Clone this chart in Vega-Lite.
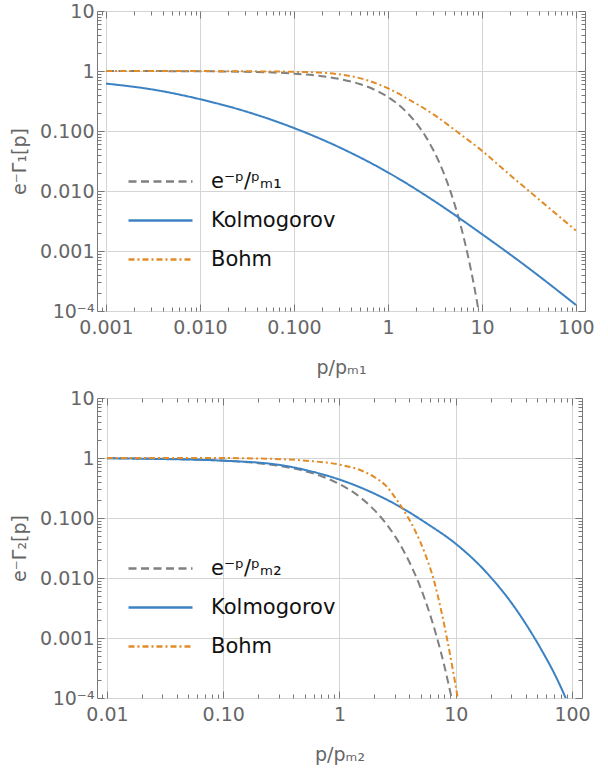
{
  "$schema": "https://vega.github.io/schema/vega-lite/v6.json",
  "padding": {"left": 10, "top": 1, "right": 5, "bottom": 5},
  "background": "white",
  "spacing": 10,
  "align": "none",
  "config": {
    "view": {"stroke": "#7a7a7a", "strokeWidth": 1},
    "axis": {
      "labelFont": "DejaVu Sans", "labelFontSize": 19, "labelColor": "#666666",
      "titleFont": "DejaVu Sans", "titleFontSize": 19, "titleColor": "#666666", "titleFontWeight": "normal",
      "gridColor": "#d4d4d4", "gridWidth": 1, "tickColor": "#777777", "domain": false,
      "labelOverlap": false, "labelFlush": false, "labelBound": false
    },
    "legend": {
      "labelFont": "DejaVu Sans", "labelFontSize": 21, "labelColor": "#111111",
      "symbolType": "M-4,0H4", "symbolSize": 256, "symbolStrokeWidth": 2.5,
      "labelOffset": 40, "rowPadding": 17, "title": null
    }
  },
  "datasets": {
    "top": [
      {"x": 0.001, "y": 0.999, "s": "exp"}, {"x": 0.01, "y": 0.990, "s": "exp"}, {"x": 0.03, "y": 0.970, "s": "exp"},
      {"x": 0.1, "y": 0.905, "s": "exp"}, {"x": 0.2, "y": 0.819, "s": "exp"}, {"x": 0.3, "y": 0.741, "s": "exp"},
      {"x": 0.5, "y": 0.607, "s": "exp"}, {"x": 0.7, "y": 0.497, "s": "exp"}, {"x": 1, "y": 0.368, "s": "exp"},
      {"x": 1.5, "y": 0.223, "s": "exp"}, {"x": 2, "y": 0.135, "s": "exp"}, {"x": 2.5, "y": 0.0821, "s": "exp"},
      {"x": 3, "y": 0.0498, "s": "exp"}, {"x": 3.5, "y": 0.0302, "s": "exp"}, {"x": 4, "y": 0.0183, "s": "exp"},
      {"x": 5, "y": 0.00674, "s": "exp"}, {"x": 6, "y": 0.00248, "s": "exp"}, {"x": 7, "y": 0.000912, "s": "exp"},
      {"x": 8, "y": 0.000335, "s": "exp"}, {"x": 9, "y": 0.000123, "s": "exp"}, {"x": 9.5, "y": 0.0000749, "s": "exp"},
      {"x": 0.001, "y": 0.617, "s": "Kolmogorov"}, {"x": 0.00316, "y": 0.490, "s": "Kolmogorov"},
      {"x": 0.01, "y": 0.339, "s": "Kolmogorov"}, {"x": 0.0316, "y": 0.209, "s": "Kolmogorov"},
      {"x": 0.1, "y": 0.112, "s": "Kolmogorov"}, {"x": 0.316, "y": 0.0519, "s": "Kolmogorov"},
      {"x": 1, "y": 0.0204, "s": "Kolmogorov"}, {"x": 3.16, "y": 0.00668, "s": "Kolmogorov"},
      {"x": 10, "y": 0.00191, "s": "Kolmogorov"}, {"x": 31.6, "y": 0.000513, "s": "Kolmogorov"},
      {"x": 100, "y": 0.000126, "s": "Kolmogorov"},
      {"x": 0.001, "y": 0.9995, "s": "Bohm"}, {"x": 0.00316, "y": 0.9989, "s": "Bohm"}, {"x": 0.01, "y": 0.9966, "s": "Bohm"},
      {"x": 0.0316, "y": 0.9886, "s": "Bohm"}, {"x": 0.1, "y": 0.970, "s": "Bohm"}, {"x": 0.178, "y": 0.944, "s": "Bohm"},
      {"x": 0.316, "y": 0.871, "s": "Bohm"}, {"x": 0.562, "y": 0.724, "s": "Bohm"}, {"x": 1, "y": 0.513, "s": "Bohm"},
      {"x": 1.78, "y": 0.316, "s": "Bohm"}, {"x": 3.16, "y": 0.182, "s": "Bohm"}, {"x": 5.62, "y": 0.0933, "s": "Bohm"},
      {"x": 10, "y": 0.0468, "s": "Bohm"}, {"x": 17.8, "y": 0.0214, "s": "Bohm"}, {"x": 31.6, "y": 0.0100, "s": "Bohm"},
      {"x": 56.2, "y": 0.00468, "s": "Bohm"}, {"x": 100, "y": 0.00219, "s": "Bohm"}
    ],
    "bot": [
      {"x": 0.01, "y": 0.990, "s": "exp"}, {"x": 0.03, "y": 0.970, "s": "exp"},
      {"x": 0.1, "y": 0.905, "s": "exp"}, {"x": 0.2, "y": 0.819, "s": "exp"}, {"x": 0.3, "y": 0.741, "s": "exp"},
      {"x": 0.5, "y": 0.607, "s": "exp"}, {"x": 0.7, "y": 0.497, "s": "exp"}, {"x": 1, "y": 0.368, "s": "exp"},
      {"x": 1.5, "y": 0.223, "s": "exp"}, {"x": 2, "y": 0.135, "s": "exp"}, {"x": 2.5, "y": 0.0821, "s": "exp"},
      {"x": 3, "y": 0.0498, "s": "exp"}, {"x": 3.5, "y": 0.0302, "s": "exp"}, {"x": 4, "y": 0.0183, "s": "exp"},
      {"x": 5, "y": 0.00674, "s": "exp"}, {"x": 6, "y": 0.00248, "s": "exp"}, {"x": 7, "y": 0.000912, "s": "exp"},
      {"x": 8, "y": 0.000335, "s": "exp"}, {"x": 9, "y": 0.000123, "s": "exp"}, {"x": 9.5, "y": 0.0000749, "s": "exp"},
      {"x": 0.01, "y": 0.989, "s": "Kolmogorov"}, {"x": 0.0316, "y": 0.959, "s": "Kolmogorov"},
      {"x": 0.1, "y": 0.902, "s": "Kolmogorov"}, {"x": 0.316, "y": 0.759, "s": "Kolmogorov"},
      {"x": 0.562, "y": 0.603, "s": "Kolmogorov"}, {"x": 1, "y": 0.437, "s": "Kolmogorov"},
      {"x": 1.78, "y": 0.282, "s": "Kolmogorov"}, {"x": 3.16, "y": 0.162, "s": "Kolmogorov"},
      {"x": 5.62, "y": 0.0813, "s": "Kolmogorov"}, {"x": 10, "y": 0.0372, "s": "Kolmogorov"},
      {"x": 17.8, "y": 0.0132, "s": "Kolmogorov"}, {"x": 31.6, "y": 0.00339, "s": "Kolmogorov"},
      {"x": 56.2, "y": 0.000575, "s": "Kolmogorov"}, {"x": 70.8, "y": 0.000251, "s": "Kolmogorov"},
      {"x": 89.1, "y": 0.0000955, "s": "Kolmogorov"}, {"x": 100, "y": 0.000055, "s": "Kolmogorov"},
      {"x": 0.01, "y": 0.9999, "s": "Bohm"}, {"x": 0.0316, "y": 0.9995, "s": "Bohm"}, {"x": 0.1, "y": 0.997, "s": "Bohm"},
      {"x": 0.316, "y": 0.955, "s": "Bohm"}, {"x": 0.562, "y": 0.89, "s": "Bohm"}, {"x": 1, "y": 0.776, "s": "Bohm"},
      {"x": 1.5, "y": 0.631, "s": "Bohm"}, {"x": 2, "y": 0.479, "s": "Bohm"}, {"x": 2.5, "y": 0.347, "s": "Bohm"},
      {"x": 3.16, "y": 0.191, "s": "Bohm"}, {"x": 3.8, "y": 0.110, "s": "Bohm"}, {"x": 4.47, "y": 0.0617, "s": "Bohm"},
      {"x": 5.5, "y": 0.024, "s": "Bohm"}, {"x": 6.47, "y": 0.00933, "s": "Bohm"}, {"x": 7.45, "y": 0.00302, "s": "Bohm"},
      {"x": 8.43, "y": 0.000955, "s": "Bohm"}, {"x": 9.4, "y": 0.000309, "s": "Bohm"}, {"x": 10.4, "y": 0.0001, "s": "Bohm"},
      {"x": 11.2, "y": 0.0000398, "s": "Bohm"}
    ]
  },
  "vconcat": [
    {
      "width": 488, "height": 300,
      "data": {"name": "top"},
      "resolve": {"axis": {"x": "independent", "y": "independent"}},
      "layer": [
        {
          "mark": {"type": "line", "clip": true, "strokeWidth": 2, "interpolate": "monotone"},
          "encoding": {
            "x": {"field": "x", "type": "quantitative",
              "scale": {"type": "log", "domain": [0.0008017, 124.74], "nice": false},
              "axis": {"orient": "bottom", "title": "p/pₘ₁", "titlePadding": 18,
                "values": [0.0009,0.001,0.002,0.003,0.004,0.005,0.006,0.007,0.008,0.009,0.01,0.02,0.03,0.04,0.05,0.06,0.07,0.08,0.09,0.1,0.2,0.3,0.4,0.5,0.6,0.7,0.8,0.9,1,2,3,4,5,6,7,8,9,10,20,30,40,50,60,70,80,90,100],
                "labelExpr": "abs(log(datum.value)/LN10 - round(log(datum.value)/LN10)) > 0.001 ? '' : datum.value >= 1 ? format(datum.value, 'd') : format(datum.value, '.3f')",
                "gridOpacity": {"condition": {"test": "abs(log(datum.value)/LN10 - round(log(datum.value)/LN10)) < 0.001", "value": 1}, "value": 0},
                "tickSize": {"condition": {"test": "abs(log(datum.value)/LN10 - round(log(datum.value)/LN10)) < 0.001", "value": -7}, "value": -4},
                "labelPadding": 14}},
            "y": {"field": "y", "type": "quantitative",
              "scale": {"type": "log", "domain": [0.0001, 10], "nice": false},
              "axis": {"orient": "left", "title": "e⁻Γ₁[p]", "titlePadding": 10,
                "values": [0.0001,0.0002,0.0003,0.0004,0.0005,0.0006,0.0007,0.0008,0.0009,0.001,0.002,0.003,0.004,0.005,0.006,0.007,0.008,0.009,0.01,0.02,0.03,0.04,0.05,0.06,0.07,0.08,0.09,0.1,0.2,0.3,0.4,0.5,0.6,0.7,0.8,0.9,1,2,3,4,5,6,7,8,9,10],
                "labelExpr": "abs(log(datum.value)/LN10 - round(log(datum.value)/LN10)) > 0.001 ? '' : datum.value >= 1 ? format(datum.value, 'd') : datum.value < 0.0005 ? '10⁻⁴' : format(datum.value, '.3f')",
                "gridOpacity": {"condition": {"test": "abs(log(datum.value)/LN10 - round(log(datum.value)/LN10)) < 0.001", "value": 1}, "value": 0},
                "tickSize": {"condition": {"test": "abs(log(datum.value)/LN10 - round(log(datum.value)/LN10)) < 0.001", "value": -7}, "value": -4},
                "labelPadding": 10}},
            "color": {"field": "s", "type": "nominal",
              "scale": {"domain": ["exp", "Kolmogorov", "Bohm"], "range": ["#808080", "#3c82c3", "#e18c28"]},
              "legend": {"orient": "none", "legendX": 53, "legendY": 160,
                "labelExpr": "datum.label == 'exp' ? 'e⁻ᵖ/ᵖₘ₁' : datum.label"}},
            "strokeDash": {"field": "s", "type": "nominal",
              "scale": {"domain": ["exp", "Kolmogorov", "Bohm"], "range": [[8, 4.5], [1, 0], [6, 3, 2, 3]]},
              "legend": {"orient": "none", "legendX": 53, "legendY": 160,
                "labelExpr": "datum.label == 'exp' ? 'e⁻ᵖ/ᵖₘ₁' : datum.label"}}
          }
        },
        {
          "mark": {"type": "line", "opacity": 0},
          "encoding": {
            "x": {"field": "x", "type": "quantitative",
              "axis": {"orient": "top", "title": null, "labels": false, "grid": false,
                "values": [0.0009,0.001,0.002,0.003,0.004,0.005,0.006,0.007,0.008,0.009,0.01,0.02,0.03,0.04,0.05,0.06,0.07,0.08,0.09,0.1,0.2,0.3,0.4,0.5,0.6,0.7,0.8,0.9,1,2,3,4,5,6,7,8,9,10,20,30,40,50,60,70,80,90,100],
                "tickSize": {"condition": {"test": "abs(log(datum.value)/LN10 - round(log(datum.value)/LN10)) < 0.001", "value": -7}, "value": -4}}},
            "y": {"field": "y", "type": "quantitative",
              "axis": {"orient": "right", "title": null, "labels": false, "grid": false,
                "values": [0.0001,0.0002,0.0003,0.0004,0.0005,0.0006,0.0007,0.0008,0.0009,0.001,0.002,0.003,0.004,0.005,0.006,0.007,0.008,0.009,0.01,0.02,0.03,0.04,0.05,0.06,0.07,0.08,0.09,0.1,0.2,0.3,0.4,0.5,0.6,0.7,0.8,0.9,1,2,3,4,5,6,7,8,9,10],
                "tickSize": {"condition": {"test": "abs(log(datum.value)/LN10 - round(log(datum.value)/LN10)) < 0.001", "value": -7}, "value": -4}}}
          }
        }
      ]
    },
    {
      "width": 485, "height": 300,
      "data": {"name": "bot"},
      "resolve": {"axis": {"x": "independent", "y": "independent"}},
      "layer": [
        {
          "mark": {"type": "line", "clip": true, "strokeWidth": 2, "interpolate": "monotone"},
          "encoding": {
            "x": {"field": "x", "type": "quantitative",
              "scale": {"type": "log", "domain": [0.008204, 121.9], "nice": false},
              "axis": {"orient": "bottom", "title": "p/pₘ₂", "titlePadding": 18,
                "values": [0.009,0.01,0.02,0.03,0.04,0.05,0.06,0.07,0.08,0.09,0.1,0.2,0.3,0.4,0.5,0.6,0.7,0.8,0.9,1,2,3,4,5,6,7,8,9,10,20,30,40,50,60,70,80,90,100],
                "labelExpr": "abs(log(datum.value)/LN10 - round(log(datum.value)/LN10)) > 0.001 ? '' : datum.value >= 1 ? format(datum.value, 'd') : format(datum.value, '.2f')",
                "gridOpacity": {"condition": {"test": "abs(log(datum.value)/LN10 - round(log(datum.value)/LN10)) < 0.001", "value": 1}, "value": 0},
                "tickSize": {"condition": {"test": "abs(log(datum.value)/LN10 - round(log(datum.value)/LN10)) < 0.001", "value": -7}, "value": -4},
                "labelPadding": 14}},
            "y": {"field": "y", "type": "quantitative",
              "scale": {"type": "log", "domain": [0.0001, 10], "nice": false},
              "axis": {"orient": "left", "title": "e⁻Γ₂[p]", "titlePadding": 10,
                "values": [0.0001,0.0002,0.0003,0.0004,0.0005,0.0006,0.0007,0.0008,0.0009,0.001,0.002,0.003,0.004,0.005,0.006,0.007,0.008,0.009,0.01,0.02,0.03,0.04,0.05,0.06,0.07,0.08,0.09,0.1,0.2,0.3,0.4,0.5,0.6,0.7,0.8,0.9,1,2,3,4,5,6,7,8,9,10],
                "labelExpr": "abs(log(datum.value)/LN10 - round(log(datum.value)/LN10)) > 0.001 ? '' : datum.value >= 1 ? format(datum.value, 'd') : datum.value < 0.0005 ? '10⁻⁴' : format(datum.value, '.3f')",
                "gridOpacity": {"condition": {"test": "abs(log(datum.value)/LN10 - round(log(datum.value)/LN10)) < 0.001", "value": 1}, "value": 0},
                "tickSize": {"condition": {"test": "abs(log(datum.value)/LN10 - round(log(datum.value)/LN10)) < 0.001", "value": -7}, "value": -4},
                "labelPadding": 10}},
            "color": {"field": "s", "type": "nominal",
              "scale": {"domain": ["exp", "Kolmogorov", "Bohm"], "range": ["#808080", "#3c82c3", "#e18c28"]},
              "legend": {"orient": "none", "legendX": 53, "legendY": 160,
                "labelExpr": "datum.label == 'exp' ? 'e⁻ᵖ/ᵖₘ₂' : datum.label"}},
            "strokeDash": {"field": "s", "type": "nominal",
              "scale": {"domain": ["exp", "Kolmogorov", "Bohm"], "range": [[8, 4.5], [1, 0], [6, 3, 2, 3]]},
              "legend": {"orient": "none", "legendX": 53, "legendY": 160,
                "labelExpr": "datum.label == 'exp' ? 'e⁻ᵖ/ᵖₘ₂' : datum.label"}}
          }
        },
        {
          "mark": {"type": "line", "opacity": 0},
          "encoding": {
            "x": {"field": "x", "type": "quantitative",
              "axis": {"orient": "top", "title": null, "labels": false, "grid": false,
                "values": [0.009,0.01,0.02,0.03,0.04,0.05,0.06,0.07,0.08,0.09,0.1,0.2,0.3,0.4,0.5,0.6,0.7,0.8,0.9,1,2,3,4,5,6,7,8,9,10,20,30,40,50,60,70,80,90,100],
                "tickSize": {"condition": {"test": "abs(log(datum.value)/LN10 - round(log(datum.value)/LN10)) < 0.001", "value": -7}, "value": -4}}},
            "y": {"field": "y", "type": "quantitative",
              "axis": {"orient": "right", "title": null, "labels": false, "grid": false,
                "values": [0.0001,0.0002,0.0003,0.0004,0.0005,0.0006,0.0007,0.0008,0.0009,0.001,0.002,0.003,0.004,0.005,0.006,0.007,0.008,0.009,0.01,0.02,0.03,0.04,0.05,0.06,0.07,0.08,0.09,0.1,0.2,0.3,0.4,0.5,0.6,0.7,0.8,0.9,1,2,3,4,5,6,7,8,9,10],
                "tickSize": {"condition": {"test": "abs(log(datum.value)/LN10 - round(log(datum.value)/LN10)) < 0.001", "value": -7}, "value": -4}}}
          }
        }
      ]
    }
  ],
  "resolve": {"scale": {"color": "independent", "strokeDash": "independent", "x": "independent", "y": "independent"}}
}
